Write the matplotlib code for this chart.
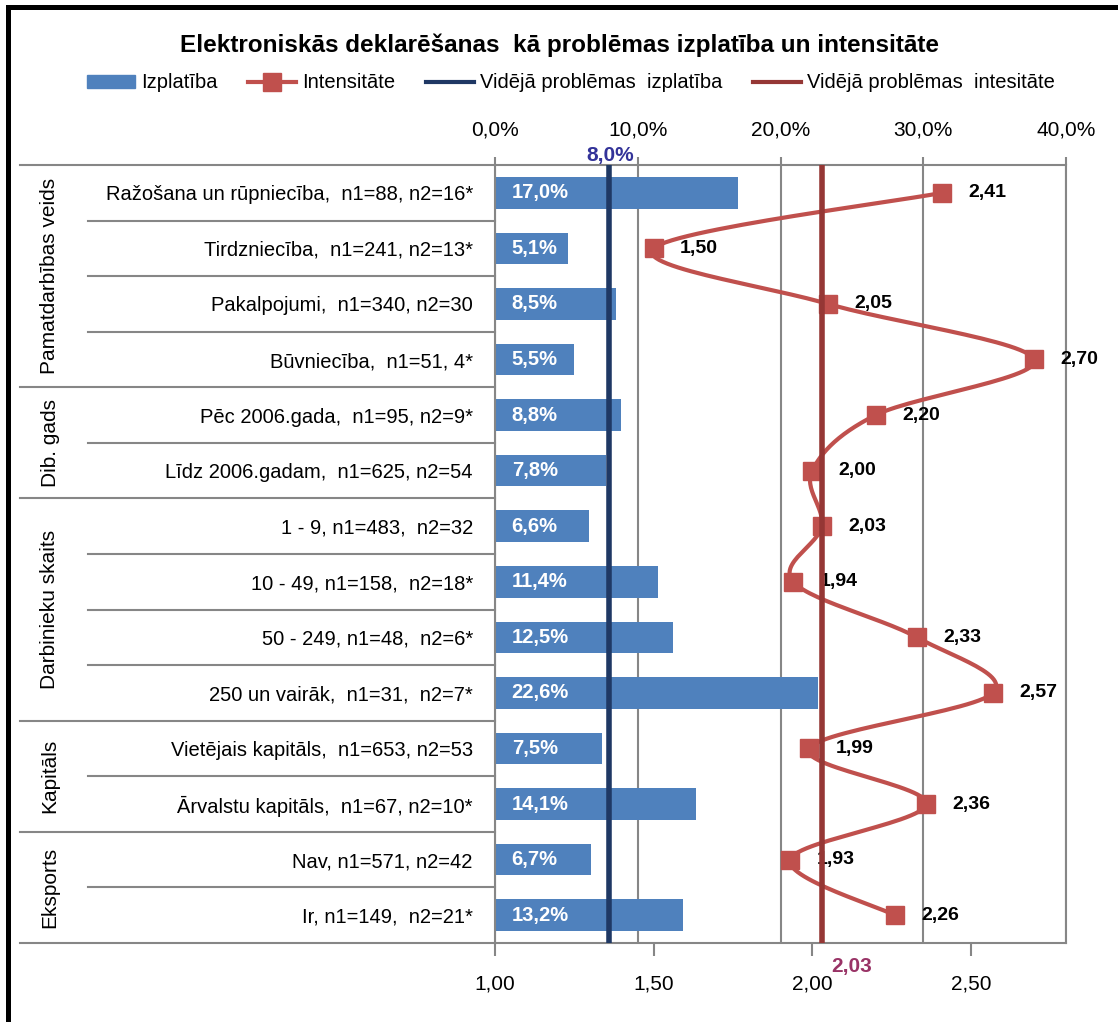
import numpy as np
import matplotlib
matplotlib.use("Agg")
import matplotlib.pyplot as plt
from matplotlib import font_manager
from matplotlib.patches import Patch
from matplotlib.lines import Line2D
from matplotlib.transforms import blended_transform_factory

# ---------------- data ----------------
categories = [
    "Ražošana un rūpniecība,  n1=88, n2=16*",
    "Tirdzniecība,  n1=241, n2=13*",
    "Pakalpojumi,  n1=340, n2=30",
    "Būvniecība,  n1=51, 4*",
    "Pēc 2006.gada,  n1=95, n2=9*",
    "Līdz 2006.gadam,  n1=625, n2=54",
    "1 - 9, n1=483,  n2=32",
    "10 - 49, n1=158,  n2=18*",
    "50 - 249, n1=48,  n2=6*",
    "250 un vairāk,  n1=31,  n2=7*",
    "Vietējais kapitāls,  n1=653, n2=53",
    "Ārvalstu kapitāls,  n1=67, n2=10*",
    "Nav, n1=571, n2=42",
    "Ir, n1=149,  n2=21*",
]
izplatiba = [17.0, 5.1, 8.5, 5.5, 8.8, 7.8, 6.6, 11.4, 12.5, 22.6, 7.5, 14.1, 6.7, 13.2]
intensitate = [2.41, 1.50, 2.05, 2.70, 2.20, 2.00, 2.03, 1.94, 2.33, 2.57, 1.99, 2.36, 1.93, 2.26]
avg_izplatiba = 8.0
avg_intensitate = 2.03
groups = ["Pamatdarbības veids", "Dib. gads", "Darbinieku skaits", "Kapitāls", "Eksports"]
group_sizes = [4, 2, 4, 2, 2]
pct_ticks = [0, 10, 20, 30, 40]
int_ticks = [1.0, 1.5, 2.0, 2.5]
title = "Elektroniskās deklarēšanas  kā problēmas izplatība un intensitāte"
legend_labels = ["Izplatība", "Intensitāte", "Vidējā problēmas  izplatība", "Vidējā problēmas  intesitāte"]

# ---------------- font ----------------
avail = {f.name for f in font_manager.fontManager.ttflist}
FONT = "DejaVu Sans"
for cand in ["Liberation Sans Narrow", "Arial Narrow", "Liberation Sans"]:
    if cand in avail:
        FONT = cand
        break
plt.rcParams["font.family"] = [FONT, "DejaVu Sans"]

C_BAR = "#4F81BD"
C_INT = "#C0504D"
C_AVG1 = "#1F3864"
C_AVG2 = "#953735"
C_GRID = "#868686"

W, H = 1118, 1022
fig = plt.figure(figsize=(W / 100, H / 100), dpi=100)
L, R, T, B = 495, 1066, 165, 943
ax = fig.add_axes([L / W, 1 - B / H, (R - L) / W, (B - T) / H])
ax2 = ax.twiny()

idx = np.arange(len(categories))

# percent axis (top)
ax.set_xlim(0, 40)
ax.set_ylim(len(categories) - 0.5, -0.5)
ax.set_axisbelow(True)
ax.grid(axis="x", color=C_GRID, lw=1.5)
ax.barh(idx, izplatiba, height=0.57, color=C_BAR, zorder=2)
for i, v in enumerate(izplatiba):
    ax.annotate(f"{v:.1f}%".replace(".", ","), xy=(0, i), xytext=(12, 0),
                textcoords="offset points", color="white", fontweight="bold",
                fontsize=14.5, ha="left", va="center", zorder=3)
ax.xaxis.tick_top()
ax.xaxis.set_label_position("top")
ax.set_xticks(pct_ticks)
ax.set_xticklabels([f"{t:.1f}%".replace(".", ",") for t in pct_ticks])
ax.tick_params(axis="x", which="both", top=True, bottom=False, labeltop=True,
               labelbottom=False, direction="out", length=6, width=1.5, color=C_GRID,
               labelsize=15, pad=12)
ax.set_yticks(idx)
ax.set_yticklabels(categories, fontsize=14.5)
ax.tick_params(axis="y", length=0, pad=16)
for s in ax.spines.values():
    s.set_color(C_GRID)
    s.set_linewidth(1.5)

ax.axvline(avg_izplatiba, color=C_AVG1, lw=4, zorder=6)
ax.annotate(f"{avg_izplatiba:.1f}%".replace(".", ","), xy=(avg_izplatiba, 1),
            xycoords=("data", "axes fraction"), xytext=(1, 3), textcoords="offset points",
            ha="center", va="baseline", color="#333399", fontweight="bold", fontsize=15,
            annotation_clip=False)

# intensity axis (bottom)
ax2.set_xlim(1.0, 2.8)
ax2.set_xticks(int_ticks)
ax2.set_xticklabels([f"{t:.2f}".replace(".", ",") for t in int_ticks])
ax2.tick_params(axis="x", which="both", top=False, bottom=True, labeltop=False,
                labelbottom=True, direction="out", length=9, width=1.5, color=C_GRID,
                labelsize=15, pad=14)
for s in ax2.spines.values():
    s.set_visible(False)

# smoothed line (Catmull-Rom / Bezier like Excel)
px = np.array(intensitate, dtype=float)
py = idx.astype(float)
P = np.column_stack([px, py])
Pext = np.vstack([P[0], P, P[-1]])
curve = []
t = np.linspace(0, 1, 30)
for k in range(1, len(Pext) - 2):
    p0, p1, p2, p3 = Pext[k - 1], Pext[k], Pext[k + 1], Pext[k + 2]
    c1 = p1 + (p2 - p0) / 6
    c2 = p2 - (p3 - p1) / 6
    seg = ((1 - t) ** 3)[:, None] * p1 + (3 * (1 - t) ** 2 * t)[:, None] * c1 \
        + (3 * (1 - t) * t ** 2)[:, None] * c2 + (t ** 3)[:, None] * p2
    curve.append(seg if k == 1 else seg[1:])
curve = np.vstack(curve)
ax2.plot(curve[:, 0], curve[:, 1], color=C_INT, lw=3, zorder=3, solid_capstyle="round")
ax2.plot(px, py, ls="none", marker="s", ms=13, color=C_INT, zorder=4)
for i, v in enumerate(intensitate):
    ax2.annotate(f"{v:.2f}".replace(".", ","), xy=(v, i), xytext=(19, 0),
                 textcoords="offset points", ha="left", va="center",
                 fontweight="bold", fontsize=14, color="black", zorder=5)

ax2.axvline(avg_intensitate, color=C_AVG2, lw=4, zorder=7)
ax2.annotate(f"{avg_intensitate:.2f}".replace(".", ","), xy=(avg_intensitate, 0),
             xycoords=("data", "axes fraction"), xytext=(7, -17), textcoords="offset points",
             ha="left", va="center", color="#993366", fontweight="bold", fontsize=15,
             annotation_clip=False)

# category group structure on the left
tr = blended_transform_factory(ax.transAxes, ax.transData)
x_group = (20 - L) / (R - L)
x_row = (88 - L) / (R - L)
x_glabel = (50 - L) / (R - L)
start = 0
for g, n in zip(groups, group_sizes):
    top = start - 0.5
    ax.plot([x_group, 0], [top, top], transform=tr, color=C_GRID, lw=1.5, clip_on=False)
    for r in range(1, n):
        yb = start + r - 0.5
        ax.plot([x_row, 0], [yb, yb], transform=tr, color=C_GRID, lw=1.5, clip_on=False)
    ax.text(x_glabel, start + (n - 1) / 2, g, rotation=90, transform=tr,
            ha="center", va="center", fontsize=15)
    start += n
ax.plot([x_group, 0], [start - 0.5, start - 0.5], transform=tr, color=C_GRID, lw=1.5, clip_on=False)

# title & legend
fig.text(559 / W, 1 - 45 / H, title, ha="center", va="center", fontsize=17.5, fontweight="bold")
handles = [
    Patch(facecolor=C_BAR, edgecolor=C_BAR),
    Line2D([], [], color=C_INT, lw=3, marker="s", ms=13),
    Line2D([], [], color=C_AVG1, lw=3),
    Line2D([], [], color=C_AVG2, lw=3),
]
fig.legend(handles, legend_labels, loc="center", bbox_to_anchor=(571 / W, 1 - 83 / H),
           ncol=4, frameon=False, fontsize=14.5, handlelength=2.4, handleheight=0.6,
           handletextpad=0.3, columnspacing=1.5)

# outer frame (left and top borders visible)
fig.add_artist(Line2D([7.5 / W, 7.5 / W, 1.01], [-0.01, 1 - 7.5 / H, 1 - 7.5 / H],
                      transform=fig.transFigure, color="black", lw=3.6,
                      solid_joinstyle="miter"))

fig.savefig("out.png", dpi=100)
